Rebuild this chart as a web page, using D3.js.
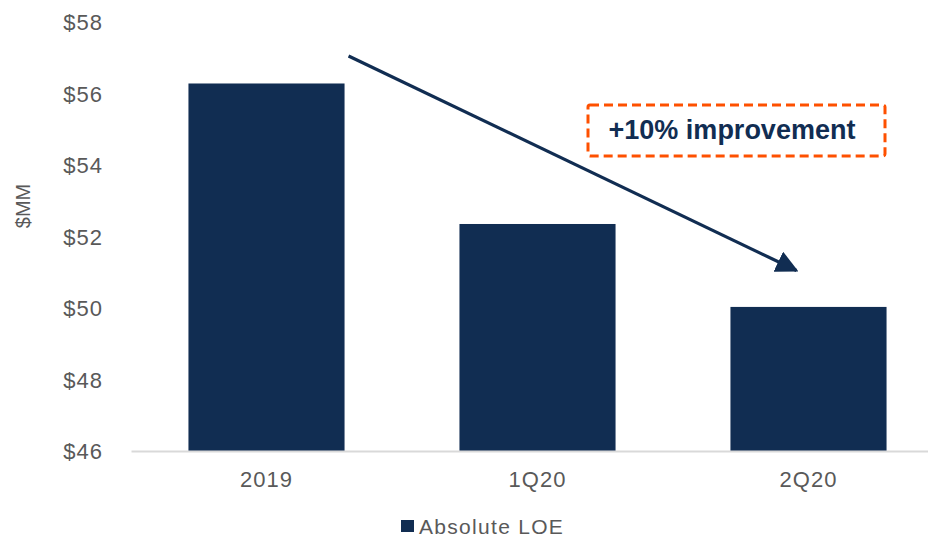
<!DOCTYPE html>
<html>
<head>
<meta charset="utf-8">
<script src="https://cdn.jsdelivr.net/npm/d3@7"></script>
<style>
    body { margin: 0; background: #fff; }
    svg { display: block; font-family: Arial, "Liberation Sans", sans-serif; }
</style>
</head>
<body>
<svg id="chart" width="928" height="539"></svg>
<script>
const categories = ['2019', '1Q20', '2Q20'];
const loeValues = [56.28, 52.35, 50.03];
const yTicks = [46, 48, 50, 52, 54, 56, 58];
const seriesName = 'Absolute LOE';
const calloutText = '+10% improvement';

document.addEventListener('DOMContentLoaded', () => {
    'use strict';

    const navy = '#112d52',
        grey = '#595959',
        orange = '#fe5000';

    let svg = d3.select('#chart');

    let y = d3.scaleLinear()
        .domain([46, 58])
        .range([451, 22]);

    let x = d3.scaleBand()
        .domain(categories)
        .range([131, 944])
        .paddingInner(0.424)
        .paddingOuter(0.212);

    // y tick labels, no axis line
    let yAxis = svg.append('g')
        .attr('transform', 'translate(103, 0)')
        .call(d3.axisLeft(y).tickValues(yTicks).tickSize(0).tickPadding(0).tickFormat(d => '$' + d));
    yAxis.select('.domain').remove();
    yAxis.selectAll('text')
        .attr('fill', grey)
        .style('font-size', '22px')
        .style('letter-spacing', '1px')
        .attr('dy', '0.36em');

    svg.append('text')
        .attr('transform', 'translate(30, 206) rotate(-90)')
        .attr('text-anchor', 'middle')
        .attr('fill', grey)
        .style('font-size', '20px')
        .text('$MM');

    let data = categories.map((c, i) => ({ cat: c, value: loeValues[i] }));

    svg.append('g')
        .selectAll('rect')
        .data(data)
      .enter().append('rect')
        .attr('x', d => x(d.cat))
        .attr('y', d => y(d.value))
        .attr('width', x.bandwidth())
        .attr('height', d => y(46) - y(d.value))
        .attr('fill', navy);

    // baseline + category labels
    let xAxis = svg.append('g')
        .attr('transform', 'translate(0,' + y(46) + ')')
        .call(d3.axisBottom(x).tickSize(0).tickPadding(20));
    xAxis.select('.domain')
        .attr('stroke', '#d9d9d9')
        .attr('stroke-width', 2);
    xAxis.selectAll('text')
        .attr('fill', grey)
        .style('font-size', '22px')
        .style('letter-spacing', '1px');

    // trend arrow
    svg.append('defs').append('marker')
        .attr('id', 'arrowhead')
        .attr('viewBox', '0 0 10 10')
        .attr('refX', 9)
        .attr('refY', 5)
        .attr('markerWidth', 7)
        .attr('markerHeight', 7)
        .attr('markerUnits', 'strokeWidth')
        .attr('orient', 'auto')
      .append('path')
        .attr('d', 'M0,0L10,5L0,10Z')
        .attr('fill', navy);

    svg.append('line')
        .attr('x1', x('2019') + x.bandwidth() + 4)
        .attr('y1', y(57.05))
        .attr('x2', x('2Q20') + 66)
        .attr('y2', y(51.05))
        .attr('stroke', navy)
        .attr('stroke-width', 3.2)
        .attr('marker-end', 'url(#arrowhead)');

    // callout box
    svg.append('rect')
        .attr('x', 588)
        .attr('y', 105)
        .attr('width', 297)
        .attr('height', 51)
        .attr('rx', 2)
        .attr('fill', 'none')
        .attr('stroke', orange)
        .attr('stroke-width', 3)
        .attr('stroke-dasharray', '9,5');

    svg.append('text')
        .attr('x', 732)
        .attr('y', 139)
        .attr('text-anchor', 'middle')
        .attr('fill', navy)
        .style('font-size', '27px')
        .style('font-weight', 'bold')
        .text(calloutText);

    // legend
    let legend = svg.append('g')
        .attr('transform', 'translate(401, 520)');
    legend.append('rect')
        .attr('width', 13)
        .attr('height', 12)
        .attr('fill', navy);
    legend.append('text')
        .attr('x', 18)
        .attr('y', 6)
        .attr('dy', '0.36em')
        .attr('fill', grey)
        .style('font-size', '21px')
        .style('letter-spacing', '1.3px')
        .text(seriesName);
});
</script>
</body>
</html>
